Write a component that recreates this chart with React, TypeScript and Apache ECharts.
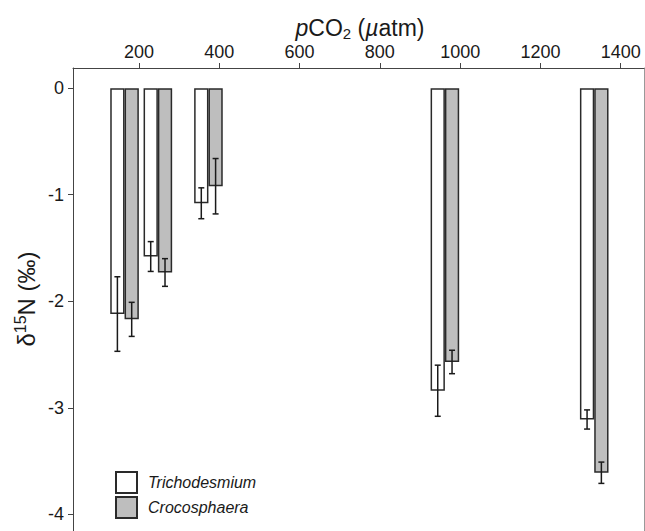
import React, { useEffect, useRef } from "react";
import * as echarts from "echarts";

// pCO2 (µatm) position of each bar pair
const pco2 = [164, 247, 373, 962, 1334];
// Trichodesmium δ15N (‰) and error
const trichoMean = [-2.12, -1.58, -1.08, -2.84, -3.11];
const trichoErr = [0.35, 0.14, 0.145, 0.24, 0.09];
// Crocosphaera δ15N (‰) and error
const crocoMean = [-2.17, -1.73, -0.92, -2.57, -3.61];
const crocoErr = [0.16, 0.13, 0.26, 0.11, 0.1];
// tick labels
const xTicks = [200, 400, 600, 800, 1000, 1200, 1400];
const yTicks = [0, -1, -2, -3, -4];

const FONT = "'Liberation Sans', Arial, Helvetica, sans-serif";

export default function App() {
  const ref = useRef<HTMLDivElement>(null);
  useEffect(() => {
    const chart = echarts.init(ref.current!, null, { renderer: "svg" });
    const barW = 14.3;
    const errSeries = (means: number[], errs: number[], dir: number) => ({
      type: "custom",
      silent: true,
      z: 10,
      encode: { x: 0, y: 1 },
      data: pco2.map((x, i) => [x, means[i], errs[i]]),
      renderItem: (params: any, api: any) => {
        const x = api.value(0);
        const m = api.value(1);
        const e = api.value(2);
        const c = api.coord([x, m]);
        const cx = c[0] + (dir * barW) / 2;
        const top = api.coord([x, m + e])[1];
        const bot = api.coord([x, m - e])[1];
        const cap = 3;
        const st = { stroke: "#1a1a1a", lineWidth: 1.5 };
        return {
          type: "group",
          children: [
            { type: "line", shape: { x1: cx, y1: top, x2: cx, y2: bot }, style: st },
            { type: "line", shape: { x1: cx - cap, y1: top, x2: cx + cap, y2: top }, style: st },
            { type: "line", shape: { x1: cx - cap, y1: bot, x2: cx + cap, y2: bot }, style: st },
          ],
        };
      },
    });
    const axisLineStyle = { color: "#444", width: 1 };
    chart.setOption({
      animation: false,
      textStyle: { fontFamily: FONT },
      grid: { left: 73, top: 68, right: 1, bottom: 0, containLabel: false },
      legend: {
        orient: "vertical",
        left: 115,
        top: 471,
        itemWidth: 21,
        itemHeight: 21,
        itemGap: 2,
        icon: "rect",
        padding: 0,
        data: ["Trichodesmium", "Crocosphaera"],
        textStyle: {
          fontFamily: FONT,
          fontSize: 16,
          fontStyle: "italic",
          color: "#1a1a1a",
          padding: [0, 0, 0, 6],
        },
      },
      xAxis: {
        type: "value",
        position: "top",
        min: 35.6,
        max: 1458,
        splitLine: { show: false },
        axisLine: { show: true, onZero: false, lineStyle: axisLineStyle },
        axisTick: { show: true, inside: false, length: 5, lineStyle: axisLineStyle, customValues: xTicks },
        axisLabel: {
          customValues: xTicks,
          formatter: (v: number) => String(v),
          fontSize: 18,
          color: "#1a1a1a",
          margin: 7,
          fontFamily: FONT,
        },
      },
      yAxis: [
        {
          type: "value",
          min: -4.157,
          max: 0.19,
          splitLine: { show: false },
          axisLine: { show: true, onZero: false, lineStyle: axisLineStyle },
          axisTick: { show: true, inside: false, length: 5, lineStyle: axisLineStyle, customValues: yTicks },
          axisLabel: {
            customValues: yTicks,
            formatter: (v: number) => String(v),
            fontSize: 18,
            color: "#1a1a1a",
            margin: 9,
            fontFamily: FONT,
          },
        },
        {
          type: "value",
          position: "right",
          min: -4.157,
          max: 0.19,
          splitLine: { show: false },
          axisLine: { show: true, onZero: false, lineStyle: { color: "#999", width: 1 } },
          axisTick: { show: false },
          axisLabel: { show: false },
        },
      ],
      graphic: [
        {
          type: "text",
          x: 360,
          y: 28,
          style: {
            text: "{i|p}{n|CO}{sub|2}{n| (}{i|µ}{n|atm)}",
            align: "center",
            verticalAlign: "middle",
            rich: {
              n: { fontSize: 23, fontFamily: FONT, fill: "#1a1a1a", lineHeight: 26 },
              i: { fontSize: 23, fontFamily: FONT, fontStyle: "italic", fill: "#1a1a1a", lineHeight: 26 },
              sub: { fontSize: 15, fontFamily: FONT, fill: "#1a1a1a", lineHeight: 12, verticalAlign: "bottom" },
            },
          },
        },
        {
          type: "text",
          x: 26,
          y: 299,
          rotation: Math.PI / 2,
          style: {
            text: "{n|δ}{sup|15}{n|N (‰)}",
            align: "center",
            verticalAlign: "middle",
            rich: {
              n: { fontSize: 24, fontFamily: FONT, fill: "#1a1a1a", lineHeight: 28 },
              sup: { fontSize: 16, fontFamily: FONT, fill: "#1a1a1a", lineHeight: 12, verticalAlign: "top" },
            },
          },
        },
      ],
      series: [
        {
          name: "Trichodesmium",
          type: "bar",
          barWidth: barW,
          barGap: "0%",
          data: pco2.map((x, i) => [x, trichoMean[i]]),
          itemStyle: { color: "#ffffff", borderColor: "#2a2a2a", borderWidth: 1.5 },
        },
        {
          name: "Crocosphaera",
          type: "bar",
          barWidth: barW,
          barGap: "0%",
          data: pco2.map((x, i) => [x, crocoMean[i]]),
          itemStyle: { color: "#bebebe", borderColor: "#2a2a2a", borderWidth: 1.5 },
        },
        errSeries(trichoMean, trichoErr, -1),
        errSeries(crocoMean, crocoErr, 1),
      ],
    });
    return () => chart.dispose();
  }, []);
  return (
    <div
      ref={ref}
      style={{ position: "fixed", left: 0, top: 0, width: 645, height: 531, background: "#fff" }}
    />
  );
}
